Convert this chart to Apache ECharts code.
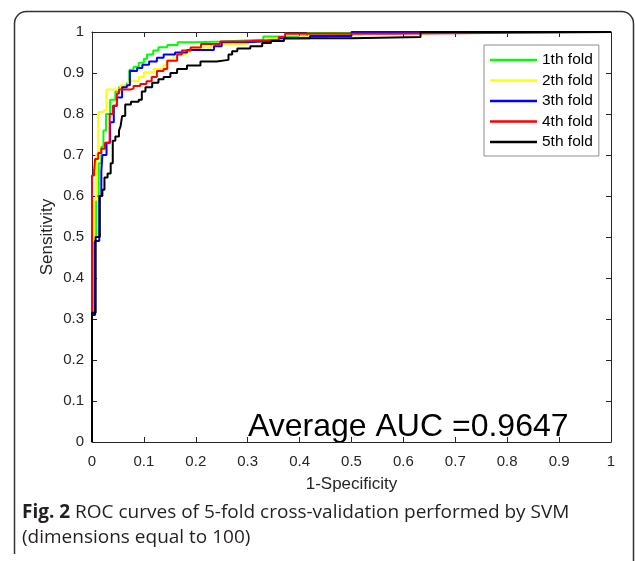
<!DOCTYPE html>
<html><head><meta charset="utf-8">
<script src="https://cdn.jsdelivr.net/npm/echarts@6/dist/echarts.min.js"></script>
<style>html,body{margin:0;padding:0;background:#fff}#c{width:635px;height:561px}</style>
</head><body><div id="c"></div>
<script>
const foldNames = ['1th fold', '2th fold', '3th fold', '4th fold', '5th fold'];
const foldColors = ['#00ff00', '#ffff00', '#0000ff', '#ff0000', '#000000'];
const xAxisTitle = '1-Specificity';
const yAxisTitle = 'Sensitivity';
const aucText = 'Average AUC =0.9647';
const captionBold = 'Fig. 2';
const captionText = ' ROC curves of 5-fold cross-validation performed by SVM';
const captionText2 = '(dimensions equal to 100)';

// [1-specificity, sensitivity] corners of each staircase (rise at x, then run right)
const fold1 = [[0,0],[0,0.31],[0.004,0.50],[0.008,0.60],[0.013,0.68],[0.018,0.72],[0.022,0.76],[0.027,0.80],[0.035,0.835],[0.045,0.855],[0.052,0.865],[0.067,0.875],[0.072,0.908],[0.08,0.915],[0.09,0.925],[0.1,0.935],[0.106,0.945],[0.118,0.955],[0.128,0.963],[0.145,0.968],[0.165,0.975],[0.2,0.977],[0.25,0.981],[0.33,0.989],[0.415,0.997],[0.47,1.0],[1,1]];
const fold2 = [[0,0],[0,0.49],[0.004,0.59],[0.008,0.70],[0.012,0.805],[0.023,0.81],[0.028,0.86],[0.055,0.87],[0.07,0.88],[0.09,0.89],[0.1,0.902],[0.119,0.91],[0.138,0.92],[0.145,0.932],[0.157,0.945],[0.183,0.952],[0.19,0.962],[0.23,0.97],[0.3,0.976],[0.34,0.983],[0.4,0.988],[0.45,0.993],[0.52,1],[1,1]];
const fold3 = [[0,0],[0,0.31],[0.006,0.49],[0.014,0.60],[0.018,0.66],[0.02,0.70],[0.028,0.73],[0.035,0.78],[0.042,0.82],[0.048,0.84],[0.058,0.865],[0.067,0.87],[0.073,0.905],[0.087,0.912],[0.097,0.92],[0.11,0.928],[0.125,0.937],[0.138,0.945],[0.16,0.95],[0.183,0.956],[0.235,0.965],[0.25,0.975],[0.3,0.979],[0.36,0.985],[0.42,0.99],[0.5,1],[1,1]];
const fold4 = [[0,0],[0,0.65],[0.004,0.66],[0.006,0.69],[0.012,0.705],[0.018,0.715],[0.025,0.73],[0.034,0.80],[0.04,0.82],[0.048,0.85],[0.052,0.86],[0.075,0.862],[0.08,0.868],[0.093,0.873],[0.105,0.88],[0.115,0.89],[0.125,0.905],[0.138,0.91],[0.145,0.93],[0.164,0.945],[0.173,0.955],[0.19,0.962],[0.21,0.971],[0.247,0.977],[0.29,0.981],[0.36,0.988],[0.372,0.996],[0.58,1],[1,1]];
const fold5 = [[0,0],[0,0.315],[0.007,0.50],[0.015,0.60],[0.02,0.615],[0.024,0.645],[0.03,0.655],[0.036,0.68],[0.04,0.735],[0.045,0.745],[0.052,0.76],[0.055,0.77],[0.058,0.795],[0.064,0.823],[0.075,0.83],[0.09,0.835],[0.096,0.855],[0.103,0.865],[0.116,0.876],[0.128,0.885],[0.138,0.89],[0.151,0.9],[0.164,0.91],[0.183,0.918],[0.209,0.928],[0.24,0.932],[0.263,0.945],[0.27,0.953],[0.28,0.96],[0.305,0.965],[0.328,0.973],[0.345,0.978],[0.37,0.985],[0.5,0.988],[0.633,1],[1,1]];
const foldData = [fold1, fold2, fold3, fold4, fold5];

const axisColor = '#262626';
const fontFam = '"Liberation Sans", Arial, Helvetica, sans-serif';
const fmt = v => String(+v.toFixed(1));

function makeAxis(extra) {
  return Object.assign({
    type: 'value', min: 0, max: 1, interval: 0.1,
    axisLine: { show: true, onZero: false, lineStyle: { color: axisColor, width: 1 } },
    axisTick: { show: true, inside: true, length: 5, lineStyle: { color: axisColor } },
    splitLine: { show: false },
    nameMoveOverlap: false,
    axisLabel: { show: true, color: axisColor, fontSize: 15, fontFamily: fontFam, formatter: fmt }
  }, extra);
}

const chart = echarts.init(document.getElementById('c'), null, { renderer: 'canvas' });
chart.setOption({
  animation: false,
  backgroundColor: '#fff',
  grid: { left: 92, right: 24, top: 32, bottom: 119, containLabel: false },
  xAxis: [
    makeAxis({ position: 'bottom', name: xAxisTitle, nameLocation: 'middle', nameGap: 34,
      nameTextStyle: { color: axisColor, fontSize: 17, fontFamily: fontFam },
      axisLabel: { show: true, color: axisColor, fontSize: 15, fontFamily: fontFam, formatter: fmt, margin: 12 } }),
    makeAxis({ position: 'top', axisLabel: { show: false } })
  ],
  yAxis: [
    makeAxis({ position: 'left', name: yAxisTitle, nameLocation: 'middle', nameGap: 36, nameRotate: 90,
      nameTextStyle: { color: axisColor, fontSize: 17, fontFamily: fontFam },
      axisLabel: { show: true, color: axisColor, fontSize: 15, fontFamily: fontFam, formatter: fmt, margin: 8 } }),
    makeAxis({ position: 'right', axisLabel: { show: false } })
  ],
  legend: {
    orient: 'vertical', left: 484, top: 45,
    padding: [7, 6, 6, 6], itemGap: 4.5, itemWidth: 47, itemHeight: 2.5,
    icon: 'rect',
    backgroundColor: '#fff', borderColor: '#8c8c8c', borderWidth: 1,
    textStyle: { color: '#000', fontSize: 15.5, fontFamily: fontFam },
    data: foldNames
  },
  series: foldNames.map((n, i) => ({
    name: n, type: 'line', step: 'end', data: foldData[i],
    xAxisIndex: 0, yAxisIndex: 0,
    showSymbol: false, symbol: 'none',
    lineStyle: { color: foldColors[i], width: 2 },
    itemStyle: { color: foldColors[i] },
    z: 2 + i
  })),
  graphic: [
    { type: 'rect', silent: true, z: 0,
      shape: { x: 14.5, y: 11.5, width: 619, height: 600, r: 12 },
      style: { fill: 'none', stroke: '#333', lineWidth: 1.5 } },
    { type: 'rect', silent: true, z: 1,
      shape: { x: 0, y: 554, width: 40, height: 10 },
      style: { fill: '#fff', stroke: 'none' } },
    { type: 'text', left: 248, top: 411,
      style: { text: aucText, fill: '#000', font: '32px ' + fontFam } },
    { type: 'text', left: 22, top: 503,
      style: { text: '{b|' + captionBold + '}{r|' + captionText + '}\n{r|' + captionText2 + '}',
        rich: {
          b: { fontWeight: 'bold', fontSize: 19, fontFamily: '"Open Sans", sans-serif', fill: '#231f20', lineHeight: 25 },
          r: { fontSize: 19, fontFamily: '"Open Sans", sans-serif', fill: '#231f20', lineHeight: 25 }
        } } }
  ]
});
</script></body></html>
